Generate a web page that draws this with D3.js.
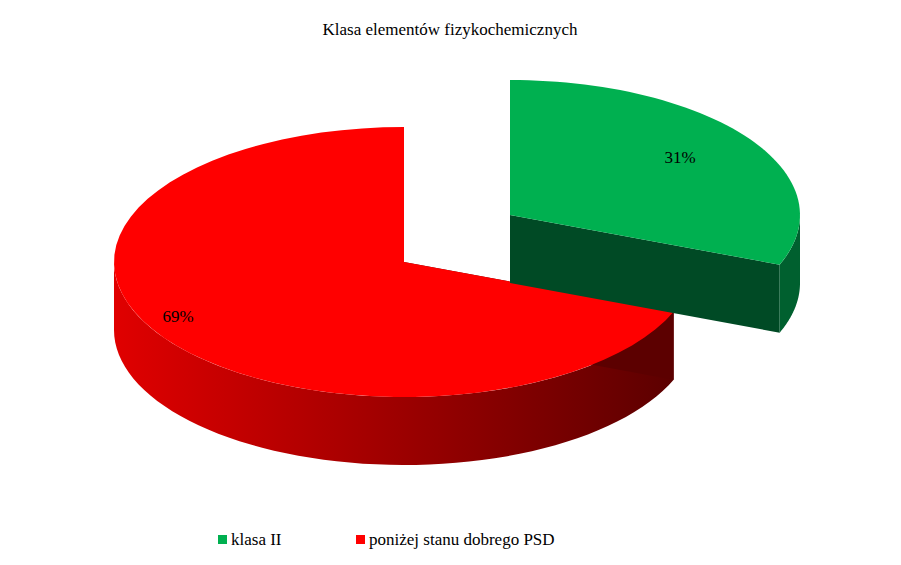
<!DOCTYPE html>
<html><head><meta charset="utf-8">
<script src="https://cdn.jsdelivr.net/npm/d3@7"></script>
<style>body{margin:0;background:#fff} text{font-family:"Liberation Serif",serif}</style>
</head><body>
<script>
var categories = ["klasa II", "poniżej stanu dobrego PSD"];
var values = [31, 69];
var labels = ["31%", "69%"];
var topColors = ["#00b050", "#ff0000"];
var sideDark = ["#004a25", "#5c0000"];

var W = 901, H = 565;
var cx = 404, cy = 262, rx = 290, ry = 135, depth = 68;
var offsets = [[106, -47], [0, 0]];

var svg = d3.select("body").append("svg").attr("width", W).attr("height", H);

var defs = svg.append("defs");
var gr = defs.append("linearGradient").attr("id", "redSide");
gr.append("stop").attr("offset", "0%").attr("stop-color", "#e00000");
gr.append("stop").attr("offset", "100%").attr("stop-color", "#5c0000");

var pie = d3.pie().sort(null)(values);

function pt(a, o, dy) {
  return [cx + o[0] + rx * Math.sin(a), cy + o[1] - ry * Math.cos(a) + (dy || 0)];
}
function arcPts(a1, a2, o, dy) {
  var n = 60;
  return d3.range(n + 1).map(function(i){ return pt(a1 + (a2 - a1) * i / n, o, dy); });
}
var line = d3.line();

function topPath(d, o) {
  var c = [cx + o[0], cy + o[1]];
  return line([c].concat(arcPts(d.startAngle, d.endAngle, o))) + "Z";
}
function wallPath(a1, a2, o) {
  var t = arcPts(a1, a2, o), b = arcPts(a2, a1, o, depth);
  return line(t.concat(b)) + "Z";
}
function radialPath(a, o) {
  var c = [cx + o[0], cy + o[1]], p = pt(a, o);
  return line([c, p, [p[0], p[1] + depth], [c[0], c[1] + depth]]) + "Z";
}

var g = svg.append("g");
var red = pie[1], green = pie[0];
var ro = offsets[1], go = offsets[0];

// red back radial face (at 12 o'clock)
g.append("path").attr("d", radialPath(red.endAngle, ro)).attr("fill", "#b00000");
// red outer wall (front part)
g.append("path").attr("d", wallPath(red.startAngle, 3 * Math.PI / 2, ro)).attr("fill", "url(#redSide)");
g.append("path").attr("d", radialPath(red.startAngle, ro)).attr("fill", "#5c0000");
g.append("path").attr("d", topPath(red, ro)).attr("fill", topColors[1]);
// green
g.append("path").attr("d", radialPath(green.endAngle, go)).attr("fill", sideDark[0]);
g.append("path").attr("d", wallPath(Math.PI / 2, green.endAngle, go)).attr("fill", "#00602f");
g.append("path").attr("d", topPath(green, go)).attr("fill", topColors[0]);

svg.append("text").attr("x", 450).attr("y", 35).attr("text-anchor", "middle")
  .attr("font-size", 17).text("Klasa elementów fizykochemicznych");

var labelPos = [[680, 163], [178, 322]];
labels.forEach(function(l, i){
  svg.append("text").attr("x", labelPos[i][0]).attr("y", labelPos[i][1])
    .attr("text-anchor", "middle").attr("font-size", 17).text(l);
});

var leg = [[218, 545], [356, 545]];
categories.forEach(function(c, i){
  svg.append("rect").attr("x", leg[i][0]).attr("y", leg[i][1] - 10).attr("width", 9).attr("height", 9)
    .attr("fill", topColors[i]);
  svg.append("text").attr("x", leg[i][0] + 13).attr("y", leg[i][1]).attr("font-size", 17).text(c);
});
</script>
</body></html>
